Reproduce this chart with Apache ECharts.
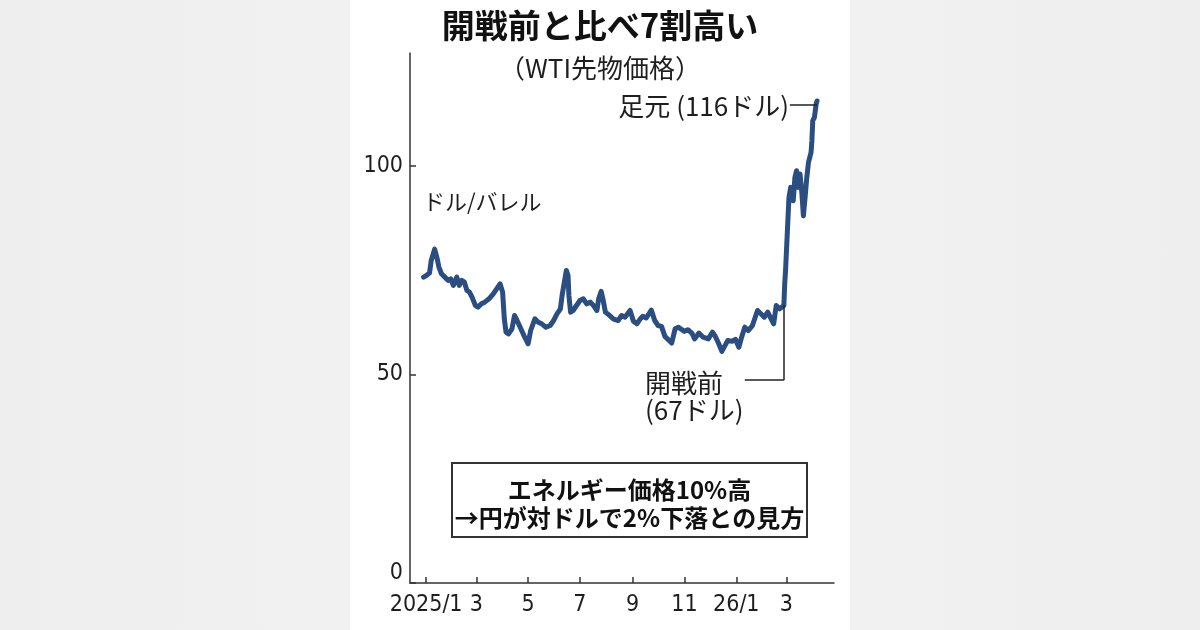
<!DOCTYPE html>
<html>
<head>
<meta charset="utf-8">
<script src="https://cdn.jsdelivr.net/npm/echarts@6/dist/echarts.min.js"></script>
<style>
  html, body { margin: 0; padding: 0; }
  body {
    width: 1200px; height: 630px; overflow: hidden;
    background:
      linear-gradient(to right, #eeeeee 0, #f1f1f1 350px, #ffffff 350px, #ffffff 850px, #f1f1f1 850px, #eeeeee 1200px);
  }
  #chart { width: 1200px; height: 630px; }
</style>
</head>
<body>
<div id="chart"></div>
<script>
// ---- data ----
const dates = [
  '2024-12-29','2025-01-02','2025-01-05','2025-01-07','2025-01-11','2025-01-14','2025-01-16','2025-01-19',
  '2025-01-23','2025-01-27','2025-01-30','2025-02-02','2025-02-06','2025-02-09','2025-02-12','2025-02-15',
  '2025-02-18','2025-02-21','2025-02-24','2025-02-28','2025-03-03','2025-03-07','2025-03-11','2025-03-16',
  '2025-03-21','2025-03-25','2025-03-29','2025-04-01','2025-04-03','2025-04-05','2025-04-08','2025-04-12',
  '2025-04-15','2025-04-18','2025-04-20','2025-04-23','2025-04-27','2025-05-01','2025-05-04','2025-05-09',
  '2025-05-13','2025-05-17','2025-05-22','2025-05-27','2025-05-31','2025-06-04','2025-06-08','2025-06-10',
  '2025-06-13','2025-06-15','2025-06-17','2025-06-18','2025-06-20','2025-06-23','2025-06-27','2025-07-01',
  '2025-07-05','2025-07-09','2025-07-13','2025-07-17','2025-07-21','2025-07-23','2025-07-26','2025-07-28',
  '2025-07-31','2025-08-05','2025-08-09','2025-08-15','2025-08-19','2025-08-23','2025-08-29','2025-09-02',
  '2025-09-06','2025-09-10','2025-09-13','2025-09-17','2025-09-23','2025-09-27','2025-10-01','2025-10-05',
  '2025-10-09','2025-10-13','2025-10-17','2025-10-21','2025-10-25','2025-10-29','2025-11-01','2025-11-05',
  '2025-11-10','2025-11-13','2025-11-18','2025-11-23','2025-11-29','2025-12-04','2025-12-07','2025-12-11',
  '2025-12-15','2025-12-17','2025-12-19','2025-12-22','2025-12-27','2025-12-31','2026-01-04','2026-01-07',
  '2026-01-11','2026-01-15','2026-01-20','2026-01-26','2026-01-30','2026-02-03','2026-02-07','2026-02-11',
  '2026-02-14','2026-02-17','2026-02-21','2026-02-26','2026-02-27','2026-02-28','2026-03-02','2026-03-04',
  '2026-03-06','2026-03-09','2026-03-11','2026-03-13','2026-03-15','2026-03-17','2026-03-19','2026-03-21',
  '2026-03-23','2026-03-25','2026-03-27','2026-03-30','2026-03-31','2026-04-01','2026-04-03','2026-04-05',
  '2026-04-06'
];
const prices = [
  73.3, 73.8, 74.3, 77.3, 80.0, 77.7, 75.7, 74.1,
  73.3, 72.5, 72.9, 71.3, 73.3, 71.3, 72.5, 72.1,
  70.1, 69.7, 68.5, 66.5, 66.1, 66.9, 67.3, 68.1,
  69.3, 70.5, 71.7, 69.7, 63.3, 60.1, 59.7, 60.9,
  64.1, 62.9, 63.0, 60.7, 58.9, 57.3, 60.5, 63.3,
  62.5, 62.1, 61.3, 61.7, 62.9, 64.5, 65.7, 68.9,
  72.5, 74.9, 73.7, 68.9, 64.9, 65.3, 66.5, 67.7,
  68.1, 66.9, 67.3, 66.5, 65.3, 68.1, 69.9, 68.1,
  64.9, 64.1, 63.3, 62.9, 64.1, 63.7, 65.3, 62.7,
  62.1, 63.3, 63.9, 63.5, 65.4, 62.9, 61.7, 61.5,
  59.1, 58.3, 57.5, 60.9, 61.3, 60.7, 60.3, 60.7,
  59.8, 58.5, 59.9, 58.9, 58.5, 60.1, 59.2, 57.5,
  55.5, 55.3, 57.0, 58.1, 57.9, 58.4, 56.5, 58.7,
  61.3, 60.5, 61.7, 65.3, 64.5, 63.7, 64.9, 63.3,
  62.1, 66.5, 65.7, 66.5, 71.7, 74.9, 83.7, 92.4,
  94.8, 91.6, 97.2, 98.8, 94.8, 98.0, 94.0, 88.0,
  92.4, 97.2, 100.8, 103.2, 106.0, 110.8, 111.6, 114.8,
  115.5
];
const xTickDates = ['2025-01-01','2025-03-01','2025-05-01','2025-07-01','2025-09-01','2025-11-01','2026-01-01','2026-03-01'];
const xTickLabels = ['2025/1','3','5','7','9','11','26/1','3'];
const yTickValues = [0, 50, 100];
const warStart = { date: '2026-02-26', value: 66.5 };
const latest = { date: '2026-04-06', value: 115.5 };

// ---- helpers ----
function ts(s) { const p = s.split('-').map(Number); return Date.UTC(p[0], p[1] - 1, p[2]); }
const xTickTs = xTickDates.map(ts);
const seriesData = dates.map((d, i) => [ts(d), prices[i]]);

const CJK = "'Noto Sans CJK JP', 'Noto Sans', sans-serif";
const NUM = "'Liberation Sans Narrow', 'DejaVu Sans Condensed', 'Liberation Sans', sans-serif";
const INK = '#1e1e1e';
const NUMSIZE = 23;

const chart = echarts.init(document.getElementById('chart'), null, { renderer: 'canvas' });
chart.setOption({
  animation: false,
  backgroundColor: 'transparent',
  grid: { left: 410, right: 366, top: 53, bottom: 47, containLabel: false },
  xAxis: {
    type: 'value',
    min: ts('2024-12-13'),
    max: ts('2026-04-26'),
    axisLine: { show: true, onZero: false, lineStyle: { color: '#333', width: 1.5 } },
    axisTick: { show: true, inside: true, length: 6, customValues: xTickTs, lineStyle: { color: '#333', width: 1.5 } },
    axisLabel: {
      show: true, customValues: xTickTs, margin: 11,
      fontFamily: NUM, fontSize: NUMSIZE, color: INK, hideOverlap: false,
      formatter: function (v) { const i = xTickTs.indexOf(v); return i >= 0 ? xTickLabels[i] : ''; }
    },
    splitLine: { show: false }
  },
  yAxis: {
    type: 'value', min: 0, max: 127,
    axisLine: { show: true, onZero: false, lineStyle: { color: '#333', width: 1.5 } },
    axisTick: { show: true, inside: true, length: 6, customValues: yTickValues, lineStyle: { color: '#333', width: 1.5 } },
    axisLabel: {
      show: true, customValues: yTickValues, margin: 7,
      fontFamily: NUM, fontSize: NUMSIZE, color: INK,
      formatter: function (v) { return v === 0 ? '{z|0}' : String(v); },
      rich: { z: { fontFamily: NUM, fontSize: NUMSIZE, color: INK, padding: [0, 0, 20, 0] } }
    },
    splitLine: { show: false }
  },
  series: [{
    type: 'line',
    data: seriesData,
    showSymbol: false,
    smooth: false,
    lineStyle: { color: '#2a4d82', width: 5, join: 'round', cap: 'round' },
    markLine: {
      silent: true,
      symbol: ['none', 'none'],
      lineStyle: { color: '#222', width: 1.5, type: 'solid' },
      label: { show: false },
      data: [
        [{ coord: [ts(warStart.date), warStart.value] }, { coord: [ts(warStart.date), 48.6] }],
        [{ coord: [ts(warStart.date), 48.6] }, { coord: [ts('2026-01-11'), 48.6] }],
        [{ coord: [ts('2026-03-05'), latest.value - 1] }, { coord: [ts(latest.date), latest.value - 1] }]
      ]
    }
  }],
  graphic: [
    { type: 'text', x: 600, y: 25, style: { text: '開戦前と比べ7割高い', align: 'center', verticalAlign: 'middle', fontFamily: CJK, fontSize: 33, fontWeight: 'bold', fill: '#111' } },
    { type: 'text', x: 600, y: 68, style: { text: '（WTI先物価格）', align: 'center', verticalAlign: 'middle', fontFamily: CJK, fontSize: 26, fill: INK } },
    { type: 'text', x: 789, y: 106, style: { text: '足元 (116ドル)', align: 'right', verticalAlign: 'middle', fontFamily: CJK, fontSize: 26, fill: INK } },
    { type: 'text', x: 423, y: 202, style: { text: 'ドル/バレル', align: 'left', verticalAlign: 'middle', fontFamily: CJK, fontSize: 22, fill: INK } },
    { type: 'text', x: 645, y: 383, style: { text: '開戦前', align: 'left', verticalAlign: 'middle', fontFamily: CJK, fontSize: 26, fill: INK } },
    { type: 'text', x: 645, y: 410, style: { text: '(67ドル)', align: 'left', verticalAlign: 'middle', fontFamily: CJK, fontSize: 26, fill: INK } },
    { type: 'rect', shape: { x: 452, y: 463, width: 355, height: 74 }, style: { fill: '#fff', stroke: '#333', lineWidth: 2 } },
    { type: 'text', x: 629.5, y: 490, style: { text: 'エネルギー価格10%高', align: 'center', verticalAlign: 'middle', fontFamily: CJK, fontSize: 24, fontWeight: 'bold', fill: '#111' } },
    { type: 'text', x: 629.5, y: 518, style: { text: '→円が対ドルで2%下落との見方', align: 'center', verticalAlign: 'middle', fontFamily: CJK, fontSize: 24, fontWeight: 'bold', fill: '#111' } }
  ]
});
</script>
</body>
</html>
